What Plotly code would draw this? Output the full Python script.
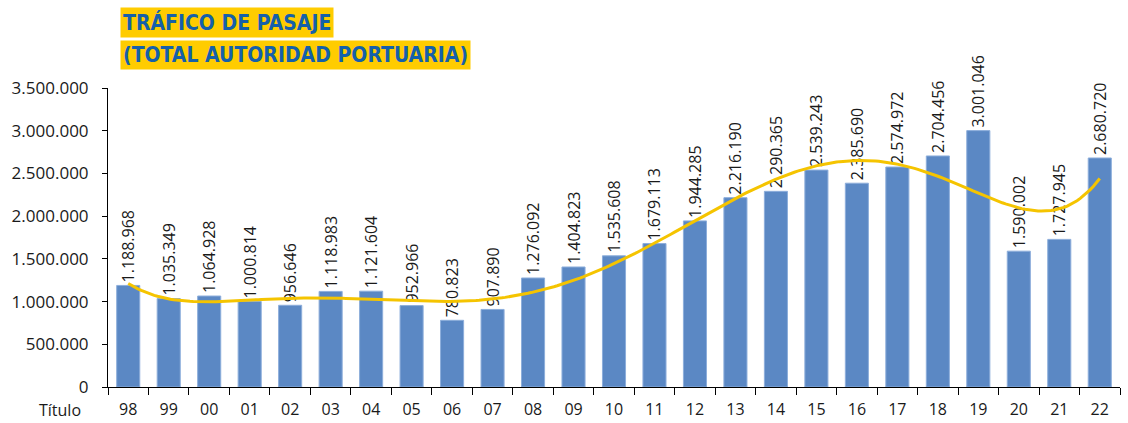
import numpy as np
import plotly.graph_objects as go

# Passenger traffic, total port authority (1998-2022)
years = ['98', '99', '00', '01', '02', '03', '04', '05', '06', '07', '08', '09', '10',
         '11', '12', '13', '14', '15', '16', '17', '18', '19', '20', '21', '22']
passengers = [1188968, 1035349, 1064928, 1000814, 956646, 1118983, 1121604, 952966,
              780823, 907890, 1276092, 1404823, 1535608, 1679113, 1944285, 2216190,
              2290365, 2539243, 2385690, 2574972, 2704456, 3001046, 1590002, 1727945,
              2680720]

y_ticks = [0, 500000, 1000000, 1500000, 2000000, 2500000, 3000000, 3500000]

pos = np.arange(len(years))
labels = [f"{v:,}".replace(",", ".") for v in passengers]

# polynomial trendline (order 6), like the spreadsheet trendline
coef = np.polyfit(pos, passengers, 6)
xs = np.linspace(0, len(years) - 1, 300)
trend = np.polyval(coef, xs)

font = "Open Sans, Noto Sans, sans-serif"

fig = go.Figure()
fig.add_trace(go.Bar(x=pos, y=passengers, text=labels,
                     textposition='outside', textangle=-90, constraintext='none',
                     textfont=dict(size=16, color='#1a1a1a', family=font),
                     cliponaxis=False, width=0.57,
                     marker=dict(color='#5B88C4', line=dict(color='#8DAEDB', width=1))))
fig.add_trace(go.Scatter(x=xs, y=trend, mode='lines',
                         line=dict(color='#F5C400', width=3), hoverinfo='skip'))

fig.update_layout(
    width=1128, height=423,
    margin=dict(l=108, r=8, t=88, b=36),
    plot_bgcolor='white', paper_bgcolor='white',
    showlegend=False, separators=',.',
    font=dict(family=font, size=17, color='#1a1a1a'),
)
fig.update_yaxes(range=[0, 3500000], tickvals=y_ticks,
                 ticktext=[f"{v:,}".replace(",", ".") for v in y_ticks],
                 showgrid=False, showline=True, linecolor='black', linewidth=1,
                 ticks='outside', ticklen=5, tickcolor='black', zeroline=False,
                 ticklabelstandoff=10, automargin=False)
fig.update_xaxes(range=[-0.5, len(years) - 0.5], tickvals=pos, ticktext=years,
                 showgrid=False, showline=True, linecolor='black', linewidth=1,
                 ticks='', zeroline=False, ticklabelstandoff=8, automargin=False,
                 tickfont=dict(size=16),
                 minor=dict(tick0=-0.5, dtick=1, ticks='outside', ticklen=7,
                            tickcolor='black', showgrid=False))

title_font = dict(family="DejaVu Sans Condensed, sans-serif",
                  size=21, color='#1560AA')
fig.add_annotation(text="<b>TRÁFICO DE PASAJE</b>", xref='paper', yref='paper',
                   x=0.012, y=1.0, yshift=66, xanchor='left', yanchor='middle',
                   showarrow=False, font=title_font, bgcolor='#FFCC00', borderpad=2)
fig.add_annotation(text="<b>(TOTAL AUTORIDAD PORTUARIA)</b>", xref='paper', yref='paper',
                   x=0.012, y=1.0, yshift=33, xanchor='left', yanchor='middle',
                   showarrow=False, font=title_font, bgcolor='#FFCC00', borderpad=2)
fig.add_annotation(text="Título", xref='paper', yref='paper', x=0, y=0,
                   xshift=-48, yshift=-23, xanchor='center', yanchor='middle',
                   showarrow=False, font=dict(family=font, size=16, color='#1a1a1a'))

fig.write_html("out.html", config={"displayModeBar": False},
               post_script="document.body.style.margin='0';")
